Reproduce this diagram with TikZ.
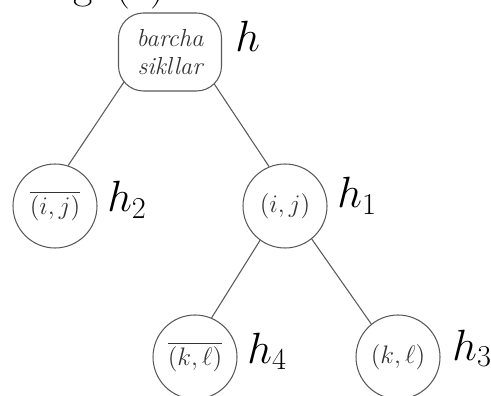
\documentclass[tikz,border=0pt]{standalone}
\usetikzlibrary{backgrounds}
\begin{document}
\begin{tikzpicture}[every node/.style={font=\fontsize{14}{15.5}\selectfont},
  vertex/.style={draw=black!65, line width=0.6pt, circle, minimum size=1.68cm, inner sep=0pt, fill=white, text=black!80},
  rootbox/.style={draw=black!65, line width=0.6pt, rounded corners=0.5cm, minimum width=2.06cm, minimum height=1.56cm,
    align=center, inner sep=0pt, fill=white, text=black!80, font=\fontsize{14}{15.5}\selectfont\itshape},
  weight/.style={font=\fontsize{24}{28}\selectfont, anchor=base west, inner sep=0pt},
  edge/.style={draw=black!65, line width=0.6pt}]
\useasboundingbox (0,0) rectangle (9.82,-7.92);

\node[weight] (cap) at (0.74,0.02) {Fig.~(a)};

\node[rootbox] (all) at (3.40,-1.04) {barcha\\ sikllar};
\node[weight] (hall) at (4.70,-1.04) {$h$};

\node[vertex] (ijbar) at (1.10,-4.12) {$\overline{(i,j)}$};
\node[weight] (h2) at (2.14,-4.24) {$h_2$};

\node[vertex] (ij) at (5.70,-4.12) {$(i,j)$};
\node[weight] (h1) at (6.74,-4.16) {$h_1$};

\node[vertex] (klbar) at (3.90,-7.14) {$\overline{(k,\ell)}$};
\node[weight] (h4) at (4.94,-7.26) {$h_4$};

\node[vertex] (kl) at (7.96,-7.14) {$(k,\ell)$};
\node[weight] (h3) at (9.04,-7.20) {$h_3$};

\begin{scope}[on background layer]
\draw[edge] ([xshift=-0.52cm]all.center) -- (ijbar.72);
\draw[edge] ([xshift=0.46cm]all.center) -- (ij.112);
\end{scope}
\draw[edge] (ij.-126) -- (klbar.67);
\draw[edge] (ij.-51) -- (kl.129);
\end{tikzpicture}
\end{document}
